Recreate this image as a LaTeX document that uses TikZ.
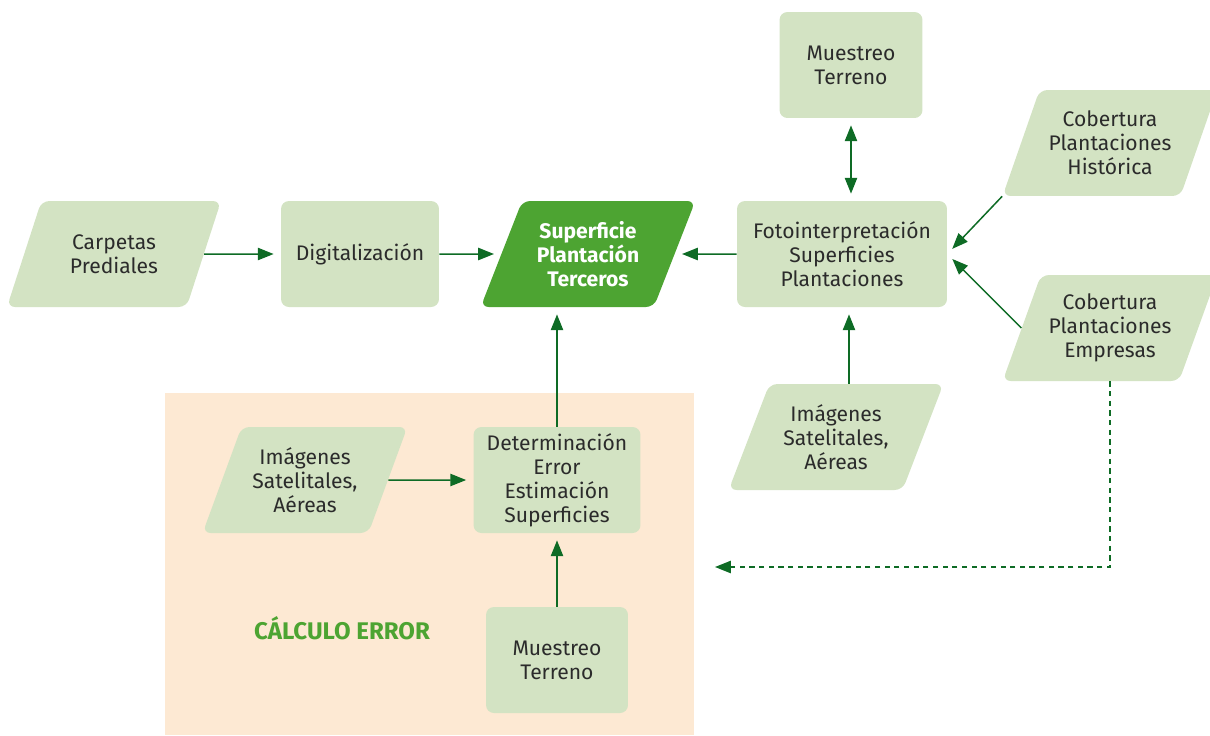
\documentclass[tikz,border=0pt]{standalone}
\usepackage{fontspec}
\setmainfont{Fira Sans}
\usetikzlibrary{shapes,arrows.meta,positioning,calc}

\definecolor{lightgreen}{HTML}{D3E3C3}
\definecolor{darkgreen}{HTML}{0E6B25}
\definecolor{midgreen}{HTML}{4DA432}
\definecolor{peach}{HTML}{FDE9D3}
\definecolor{textgray}{HTML}{2B2B2B}

\begin{document}
\begin{tikzpicture}[
    x=0.02cm, y=-0.02cm,
    font=\fontsize{12}{13.6}\selectfont,
    box/.style={rectangle, rounded corners=4.5pt, fill=lightgreen,
      text=textgray, align=center, minimum height=2.12cm},
    para/.style={trapezium, trapezium left angle=65, trapezium right angle=115,
      trapezium stretches, rounded corners=4.5pt, fill=lightgreen,
      text=textgray, align=center, minimum width=4.3cm, minimum height=2.12cm},
    arr/.style={draw=darkgreen, line width=0.85pt,
      -{Triangle[length=9pt,width=7pt]}, shorten >=4pt}
  ]
    \useasboundingbox (0,0) rectangle (1210,735);

    % error zone in the back
    \fill[peach] (165,393) rectangle (694,735);

    % main row
    \node[para] (carpetas) at (114,254) {Carpetas\\Prediales};
    \node[box, minimum width=3.16cm] (digital) at (360,254) {Digitalización};
    \node[para, fill=midgreen, text=white] (superficie) at (588,254)
      {\bfseries Superficie\\\bfseries Plantación\\\bfseries Terceros};
    \node[box, minimum width=4.2cm] (foto) at (842,254)
      {Fotointerpretación\\Superficies\\Plantaciones};

    % inputs of the photo interpretation
    \node[box, minimum width=2.86cm] (muestreoA) at (851,65) {Muestreo\\Terreno};
    \node[para] (historica) at (1110,143) {Cobertura\\Plantaciones\\Histórica};
    \node[para] (empresas) at (1110,328) {Cobertura\\Plantaciones\\Empresas};
    \node[para] (imagenesA) at (836,437) {Imágenes\\Satelitales,\\Aéreas};

    % error calculation
    \node[para, minimum width=4.1cm] (imagenesB) at (305,480)
      {Imágenes\\Satelitales,\\Aéreas};
    \node[box, minimum width=3.34cm] (determ) at (557,480)
      {Determinación\\Error\\Estimación\\Superficies};
    \node[box, minimum width=2.84cm] (muestreoB) at (557,660) {Muestreo\\Terreno};
    \node[text=midgreen, font=\fontsize{13.7}{16}\selectfont\bfseries] (calculo)
      at (342,628) {CÁLCULO ERROR};

    \coordinate (dashend) at (715,567);

    \draw[arr] (carpetas) -- (digital);
    \draw[arr] (digital) -- (superficie);
    \draw[arr] (foto) -- (superficie);
    \draw[arr, {Triangle[length=9pt,width=7pt]}-{Triangle[length=9pt,width=7pt]},
      shorten <=4pt] (muestreoA.south) -- (muestreoA.south |- foto.north);
    \draw[arr] (historica.bottom left corner) -- (foto.east);
    \draw[arr] (empresas.left side) -- (foto.east);
    \draw[arr] ([xshift=0.26cm]imagenesA.north)
      -- ([xshift=0.26cm]imagenesA.north |- foto.south);
    \draw[arr] (determ.north) -- (determ.north |- superficie.south);
    \draw[arr] (imagenesB) -- (determ);
    \draw[arr] (muestreoB) -- (determ);
    \draw[arr, dash pattern=on 3pt off 2.5pt, shorten >=0pt]
      (empresas.south) |- (dashend);
\end{tikzpicture}
\end{document}
